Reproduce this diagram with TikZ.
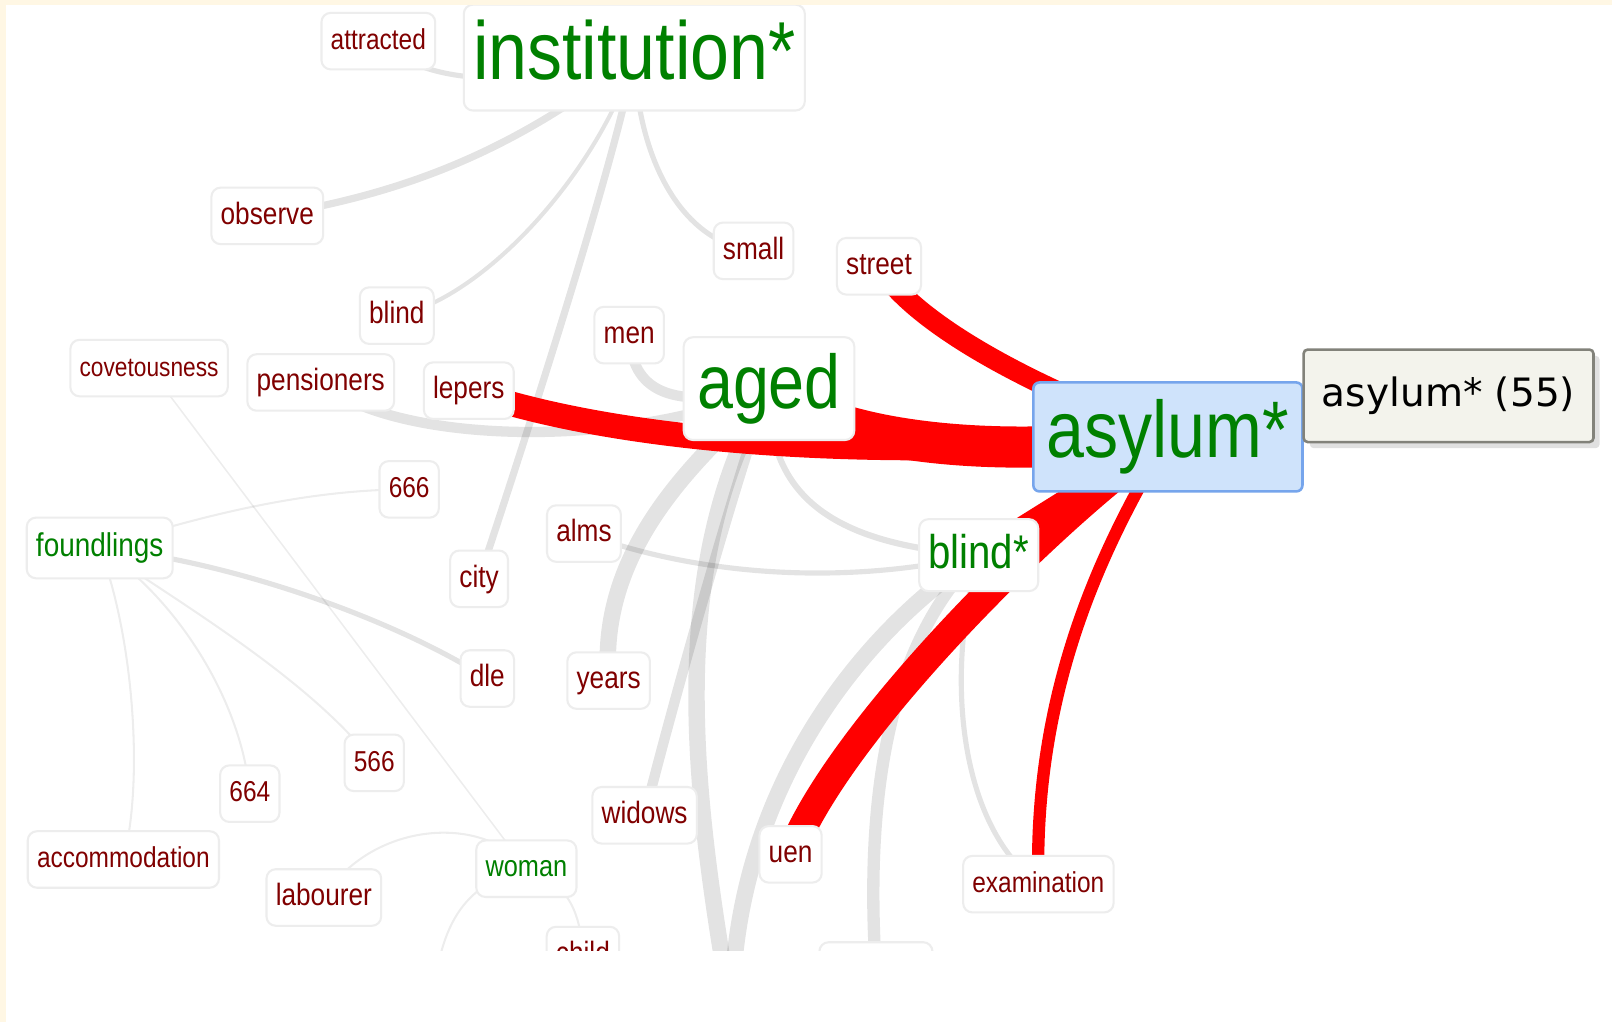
\documentclass[tikz,border=0pt]{standalone}
\usepackage{fontspec}
\setmainfont[FakeStretch=0.85]{Liberation Sans}
\newfontfamily\tipfont{DejaVu Sans}
\usepackage{tikz}
\usetikzlibrary{backgrounds, shadows}
\definecolor{cream}{HTML}{FFF7E4}
\definecolor{termred}{HTML}{800000}
\definecolor{termgreen}{HTML}{008000}
\definecolor{hubfill}{HTML}{CFE3FB}
\definecolor{hubline}{HTML}{76A5EC}
\definecolor{tipfill}{HTML}{F3F3EC}
\definecolor{tipline}{HTML}{82827A}
\newcommand{\fs}[1]{\fontsize{#1}{#1}\selectfont}
\newcommand{\word}[4][]{
    \node[lbl, #1] (#2) at (#3) {#4};
}
\newcommand{\topic}[5][]{
    \node[lbl, text=termgreen, font=\fs{#5}, #1] (#2) at (#3) {#4};
}

\begin{document}
\begin{tikzpicture}[x=1pt, y=-1pt,
    lbl/.style={draw=black!7, line width=2pt, fill=white, rounded corners=9pt,
        text=termred, font=\fs{30}, inner xsep=9pt, inner ysep=0pt,
        minimum height=55pt, text height=22pt, text depth=6pt},
    tie/.style={draw=black, draw opacity=0.11, line width=#1},
    faint/.style={draw=black, draw opacity=0.07, line width=#1},
    hot/.style={draw=red, line width=#1},
    tip/.style={fill=tipfill, draw=tipline, line width=2.5pt, rounded corners=4pt,
        minimum width=282pt, minimum height=90pt, text=black, font=\tipfont\fs{38},
        drop shadow={shadow xshift=6pt, shadow yshift=-6pt, opacity=0.12, fill=black}}]
    \useasboundingbox (0,0) rectangle (1568,994);
    \begin{scope}
        \clip (6,5) rectangle (1568,925);
        \word[font=\fs{28}]{attracted}{368,40}{attracted}
        \topic[minimum height=103pt, text height=58pt, text depth=16pt]{inst}{617,56}{institution*}{80}
        \word{observe}{260,210}{observe}
        \word{small}{733,244}{small}
        \word{street}{855,259}{street}
        \word{blindw}{386,307}{blind}
        \word{men}{612,326}{men}
        \word[font=\fs{26}]{covet}{145,358}{covetousness}
        \word{pension}{312,372}{pensioners}
        \word{lepers}{456,380}{lepers}
        \topic[minimum height=100pt, text height=54pt, text depth=15pt, inner xsep=13pt]{aged}{748,378}{aged}{74}
        \topic[minimum height=106pt, text height=56pt, text depth=16pt, inner xsep=13pt,
            fill=hubfill, draw=hubline, line width=2.5pt, rounded corners=6pt]{asylum}{1136,425}{asylum*}{78}
        \word[font=\fs{28}]{w666}{398,476}{666}
        \topic[minimum height=59pt]{foundl}{97,533}{foundlings}{32}
        \word{alms}{568,519}{alms}
        \topic[minimum height=70pt, text height=34pt, text depth=9pt]{blindst}{952,540}{blind*}{46}
        \word{city}{466,563}{city}
        \word{dle}{474,660}{dle}
        \word{years}{592,662}{years}
        \word[font=\fs{28}]{w566}{364,742}{566}
        \word[font=\fs{28}]{w664}{243,772}{664}
        \word{widows}{627,793}{widows}
        \word{uen}{769,831}{uen}
        \word[font=\fs{28}]{exam}{1010,860}{examination}
        \word[font=\fs{28}]{accom}{120,836}{accommodation}
        \word{labourer}{315,873}{labourer}
        \topic{woman}{512,845}{woman}{29}
        \word{child}{567,929}{child}
        \node[lbl, minimum width=110pt] (lowbox) at (852,944) {};
    \end{scope}
    \coordinate (below) at (712,990);
    \coordinate (under) at (420,990);
    \begin{scope}[on background layer]
        \fill[cream] (0,0) rectangle (1568,994);
        \fill[white] (6,5) rectangle (1568,994);
        \clip (6,5) rectangle (1568,925);
        % grey links
        \draw[tie=5] (attracted.center) .. controls (400,70) and (470,95) .. (inst.center);
        \draw[tie=7] (observe.center) .. controls (420,185) and (520,130) .. (inst.center);
        \draw[tie=5] (inst.center) .. controls (620,150) and (660,235) .. (small.center);
        \draw[tie=4] (blindw.center) .. controls (470,290) and (580,170) .. (inst.center);
        \draw[tie=7] (inst.center) .. controls (600,150) and (520,400) .. (city.center);
        \draw[tie=10] (pension.center) .. controls (380,430) and (600,440) .. (aged.center);
        \draw[tie=10] (men.center) .. controls (615,380) and (650,400) .. (aged.center);
        \draw[tie=16] (aged.center) .. controls (700,430) and (580,520) .. (years.center);
        \draw[tie=10] (aged.center) .. controls (720,450) and (650,700) .. (widows.center);
        \draw[tie=16] (aged.center) .. controls (640,560) and (680,800) .. (below);
        \draw[tie=6] (aged.center) .. controls (745,490) and (820,530) .. (blindst.center);
        \draw[tie=5] (alms.center) .. controls (680,560) and (820,570) .. (blindst.center);
        \draw[tie=16] (blindst.center) .. controls (830,620) and (710,780) .. (below);
        \draw[tie=12] (blindst.center) .. controls (870,620) and (840,760) .. (lowbox.center);
        \draw[tie=5] (blindst.center) .. controls (920,650) and (930,800) .. (exam.center);
        % foundlings and woman
        \draw[faint=2] (foundl.center) .. controls (200,500) and (300,476) .. (w666.center);
        \draw[tie=5] (foundl.center) .. controls (220,545) and (380,600) .. (dle.center);
        \draw[faint=2] (foundl.center) .. controls (180,590) and (300,660) .. (w566.center);
        \draw[faint=2] (foundl.center) .. controls (170,580) and (235,680) .. (w664.center);
        \draw[faint=2] (foundl.center) .. controls (130,620) and (140,760) .. (accom.center);
        \draw[faint=1.5] (covet.center) -- (woman.center);
        \draw[faint=2] (labourer.center) .. controls (360,800) and (470,790) .. (woman.center);
        \draw[faint=2] (woman.center) .. controls (450,860) and (425,900) .. (under);
        \draw[faint=2] (woman.center) .. controls (560,860) and (565,900) .. (child.center);
        % red links
        \draw[hot=24] (lepers.center) .. controls (600,430) and (850,450) .. (asylum.center);
        \draw[hot=40] (aged.center) .. controls (800,425) and (950,450) .. (asylum.center);
        \draw[hot=20] (street.center) .. controls (880,300) and (960,360) .. (asylum.center);
        \draw[hot=22] (asylum.center) -- (blindst.center);
        \draw[hot=28] (asylum.center) .. controls (1050,480) and (820,700) .. (uen.center);
        \draw[hot=12] (asylum.center) .. controls (1080,520) and (1005,660) .. (exam.center);
    \end{scope}
    \node[tip] (tooltip) at (1409,385) {asylum* (55)};
\end{tikzpicture}
\end{document}
